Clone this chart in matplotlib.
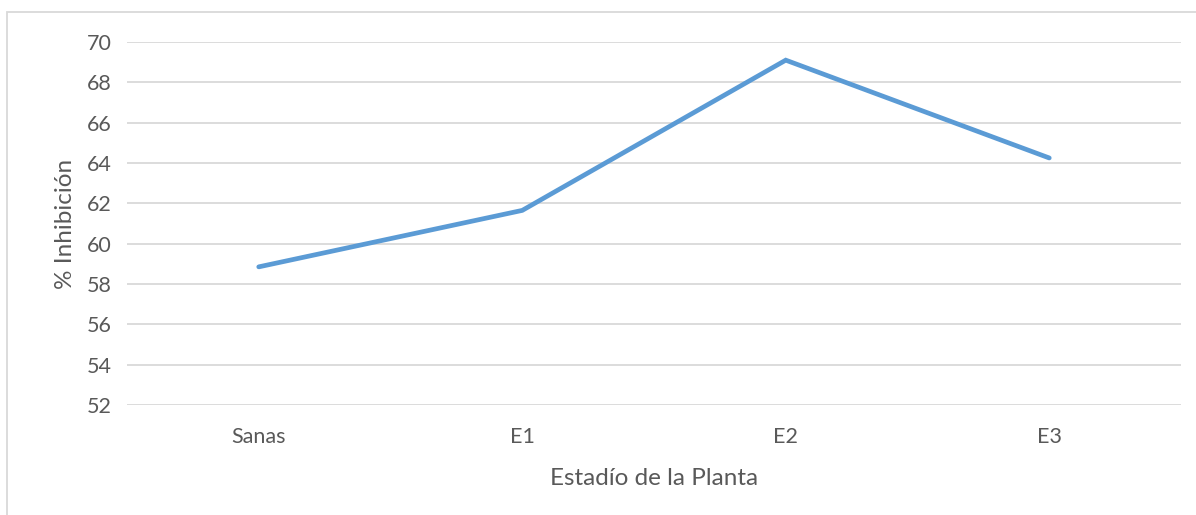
import matplotlib.pyplot as plt
from matplotlib.patches import Rectangle

categories = ["Sanas", "E1", "E2", "E3"]
inhibition = [58.85, 61.65, 69.1, 64.25]
y_ticks = [52, 54, 56, 58, 60, 62, 64, 66, 68, 70]

plt.rcParams['font.family'] = ['Lato', 'DejaVu Sans']
text_color = "#595959"

fig = plt.figure(figsize=(11.96, 5.15), dpi=100)
ax = fig.add_axes([127 / 1196, 110 / 515, (1181 - 127) / 1196, 363 / 515])

x = range(len(categories))
ax.plot(x, inhibition, color="#5B9BD5", linewidth=3.4, solid_capstyle="round",
        solid_joinstyle="miter", zorder=3)

ax.set_xlim(-0.5, len(categories) - 0.5)
ax.set_ylim(52, 70)
ax.set_yticks(y_ticks)
ax.set_xticks(list(x))
ax.set_xticklabels(categories)
ax.grid(axis="y", color="#D9D9D9", linewidth=1.3)
ax.set_axisbelow(True)
for s in ax.spines.values():
    s.set_visible(False)
ax.tick_params(length=0, labelsize=15.5, colors=text_color, pad=11)
ax.tick_params(axis="x", pad=16)

ax.set_xlabel("Estadío de la Planta", fontsize=17.5, color=text_color, labelpad=15)
ax.set_ylabel("% Inhibición", fontsize=17.5, color=text_color, labelpad=8)

fig.patches.append(Rectangle((7 / 1196, -0.1), 1.2, (515 - 12) / 515 + 0.1,
                             transform=fig.transFigure, fill=False,
                             edgecolor="#D9D9D9", linewidth=1.3))

fig.savefig("out.png", dpi=100)
